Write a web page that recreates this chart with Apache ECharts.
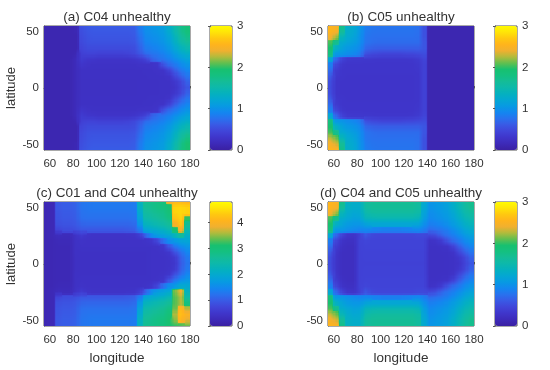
<!DOCTYPE html>
<html><head><meta charset="utf-8">
<style>html,body{margin:0;padding:0;background:#fff}#c{width:550px;height:370px}</style>
<script src="https://cdn.jsdelivr.net/npm/echarts@6/dist/echarts.min.js"></script>
</head><body><div id="c"></div>
<script>
const lons=[57.5,62.5,67.5,72.5,77.5,82.5,87.5,92.5,97.5,102.5,107.5,112.5,117.5,122.5,127.5,132.5,137.5,142.5,147.5,152.5,157.5,162.5,167.5,172.5,177.5];
const lats=[55,50,45,40,35,30,25,20,15,10,5,0,-5,-10,-15,-20,-25,-30,-35,-40,-45,-50,-55];
const lonTicks=[60,80,100,120,140,160,180];
const latTicks=[-50,0,50];
const barTicks3=[0,1,2,3];
const barTicks48=[0,1,2,3,4];
const titles=['(a) C04 unhealthy','(b) C05 unhealthy','(c) C01 and C04 unhealthy','(d) C04 and C05 unhealthy'];
const parula=['#3a20a2','#3d2ab8','#3f35ca','#4044d8','#3a58e4','#2a70ee','#1485f0','#0898e4','#04a6d4','#04b0c0','#0cb8ac','#14bc98','#14c080','#18c070','#60bf50','#b0bb3c','#f0b030','#ffb41c','#ffc810','#ffe408','#fffb00'];
const panelA=[
[.1,.1,.1,.1,.1,.12,.54,.6,.62,.62,.62,.62,.62,.62,.62,.64,.82,.98,1.02,1.06,1.12,1.28,1.5,1.72,1.88],
[.1,.1,.1,.1,.1,.12,.52,.58,.6,.6,.6,.6,.6,.6,.6,.62,.8,.96,1,1.04,1.1,1.25,1.46,1.68,1.85],
[.1,.1,.1,.1,.1,.1,.5,.56,.58,.58,.58,.58,.58,.58,.58,.6,.75,.92,.96,1,1.06,1.18,1.38,1.6,1.75],
[.1,.1,.1,.1,.1,.1,.48,.54,.55,.55,.55,.55,.55,.55,.55,.57,.7,.88,.92,.96,1.02,1.12,1.3,1.5,1.62],
[.1,.1,.1,.1,.1,.1,.45,.5,.5,.5,.5,.5,.5,.5,.5,.52,.65,.82,.86,.9,.96,1.05,1.2,1.36,1.48],
[.1,.1,.1,.1,.1,.12,.4,.44,.44,.42,.42,.42,.42,.42,.44,.48,.58,.72,.78,.82,.88,.96,1.08,1.22,1.32],
[.1,.1,.1,.1,.1,.17,.36,.31,.3,.28,.28,.28,.28,.28,.28,.3,.34,.42,.62,.72,.78,.85,.95,1.05,1.15],
[.1,.1,.1,.1,.1,.17,.3,.27,.26,.26,.26,.26,.26,.26,.26,.26,.27,.27,.27,.3,.55,.7,.8,.92,1.02],
[.1,.1,.1,.1,.1,.17,.25,.25,.25,.25,.25,.25,.25,.25,.25,.25,.25,.26,.26,.27,.28,.42,.62,.78,.9],
[.1,.1,.1,.1,.1,.17,.25,.25,.25,.25,.25,.25,.25,.25,.25,.25,.25,.25,.26,.26,.26,.28,.45,.62,.78],
[.1,.1,.1,.1,.1,.17,.24,.24,.24,.24,.24,.24,.24,.24,.24,.24,.25,.25,.25,.25,.26,.26,.32,.45,.66],
[.1,.1,.1,.1,.1,.17,.24,.24,.24,.24,.24,.24,.24,.24,.24,.24,.25,.25,.25,.25,.26,.26,.28,.42,.58],
[.1,.1,.1,.1,.1,.17,.24,.24,.24,.24,.24,.24,.24,.24,.24,.24,.25,.25,.25,.25,.26,.26,.32,.45,.66],
[.1,.1,.1,.1,.1,.17,.25,.25,.25,.25,.25,.25,.25,.25,.25,.25,.25,.25,.26,.26,.26,.28,.45,.62,.78],
[.1,.1,.1,.1,.1,.17,.25,.25,.25,.25,.25,.25,.25,.25,.25,.25,.25,.26,.26,.27,.28,.42,.62,.78,.9],
[.1,.1,.1,.1,.1,.17,.3,.27,.26,.26,.26,.26,.26,.26,.26,.26,.27,.27,.27,.3,.55,.7,.8,.92,1.02],
[.1,.1,.1,.1,.1,.17,.36,.31,.3,.28,.28,.28,.28,.28,.28,.3,.34,.42,.62,.72,.78,.85,.95,1.05,1.15],
[.1,.1,.1,.1,.1,.12,.4,.44,.44,.42,.42,.42,.42,.42,.44,.48,.58,.72,.78,.82,.88,.96,1.08,1.22,1.32],
[.1,.1,.1,.1,.1,.1,.45,.5,.5,.5,.5,.5,.5,.5,.5,.52,.65,.82,.86,.9,.96,1.05,1.2,1.36,1.48],
[.1,.1,.1,.1,.1,.1,.48,.54,.55,.55,.55,.55,.55,.55,.55,.57,.7,.88,.92,.96,1.02,1.12,1.3,1.5,1.62],
[.1,.1,.1,.1,.1,.1,.5,.56,.58,.58,.58,.58,.58,.58,.58,.6,.75,.92,.96,1,1.06,1.18,1.38,1.6,1.8],
[.1,.1,.1,.1,.1,.12,.52,.58,.6,.6,.6,.6,.6,.6,.6,.62,.8,.96,1,1.04,1.1,1.25,1.46,1.7,1.95],
[.1,.1,.1,.1,.1,.12,.54,.6,.62,.62,.62,.62,.62,.62,.62,.64,.82,.98,1.02,1.06,1.12,1.28,1.5,1.75,1.95]
];
const panelB=[
[2.55,2.5,1.75,1.3,1.25,1.05,.85,.8,.78,.78,.78,.78,.78,.78,.78,.75,.55,.1,.1,.1,.1,.1,.1,.1,.1],
[2.55,2.45,1.65,1.28,1.22,1.05,.83,.78,.77,.77,.77,.77,.77,.77,.77,.75,.55,.1,.1,.1,.1,.1,.1,.1,.1],
[2.45,2.2,1.45,1.24,1.18,1.02,.8,.76,.75,.75,.75,.75,.75,.75,.75,.74,.55,.1,.1,.1,.1,.1,.1,.1,.1],
[2.05,1.7,1.25,1.16,1.1,1,.78,.74,.72,.72,.72,.72,.72,.72,.72,.72,.58,.1,.1,.1,.1,.1,.1,.1,.1],
[1.95,1.35,1.14,1.06,1.02,.94,.7,.66,.64,.64,.64,.64,.64,.64,.64,.64,.58,.1,.1,.1,.1,.1,.1,.1,.1],
[1.8,1.05,1.02,.96,.92,.84,.56,.5,.48,.46,.46,.46,.46,.48,.48,.5,.52,.1,.1,.1,.1,.1,.1,.1,.1],
[1.2,.7,.42,.34,.33,.33,.32,.32,.31,.31,.31,.31,.31,.31,.32,.35,.44,.1,.1,.1,.1,.1,.1,.1,.1],
[.85,.45,.32,.3,.3,.3,.3,.3,.3,.3,.3,.3,.3,.3,.3,.32,.42,.1,.1,.1,.1,.1,.1,.1,.1],
[.72,.36,.3,.3,.3,.3,.3,.3,.3,.3,.3,.3,.3,.3,.3,.31,.42,.1,.1,.1,.1,.1,.1,.1,.1],
[.6,.32,.3,.29,.29,.29,.29,.29,.29,.29,.29,.29,.29,.29,.29,.3,.42,.1,.1,.1,.1,.1,.1,.1,.1],
[.52,.3,.29,.29,.29,.29,.29,.29,.29,.29,.29,.29,.29,.29,.29,.3,.42,.1,.1,.1,.1,.1,.1,.1,.1],
[.5,.3,.29,.29,.29,.29,.29,.29,.29,.29,.29,.29,.29,.29,.29,.3,.42,.1,.1,.1,.1,.1,.1,.1,.1],
[.52,.3,.29,.29,.29,.29,.29,.29,.29,.29,.29,.29,.29,.29,.29,.3,.42,.1,.1,.1,.1,.1,.1,.1,.1],
[.6,.32,.3,.29,.29,.29,.29,.29,.29,.29,.29,.29,.29,.29,.29,.3,.42,.1,.1,.1,.1,.1,.1,.1,.1],
[.72,.36,.3,.3,.3,.3,.3,.3,.3,.3,.3,.3,.3,.3,.3,.31,.42,.1,.1,.1,.1,.1,.1,.1,.1],
[.85,.45,.32,.3,.3,.3,.3,.3,.3,.3,.3,.3,.3,.3,.3,.32,.42,.1,.1,.1,.1,.1,.1,.1,.1],
[1.2,.7,.42,.34,.33,.33,.32,.32,.31,.31,.31,.31,.31,.31,.32,.35,.44,.1,.1,.1,.1,.1,.1,.1,.1],
[1.8,1.05,1.02,.96,.92,.84,.56,.5,.48,.46,.46,.46,.46,.48,.48,.5,.52,.1,.1,.1,.1,.1,.1,.1,.1],
[1.95,1.35,1.14,1.06,1.02,.94,.7,.66,.64,.64,.64,.64,.64,.64,.64,.64,.58,.1,.1,.1,.1,.1,.1,.1,.1],
[2.05,1.7,1.25,1.16,1.1,1,.78,.74,.72,.72,.72,.72,.72,.72,.72,.72,.58,.1,.1,.1,.1,.1,.1,.1,.1],
[2.3,2.1,1.45,1.24,1.18,1.02,.8,.76,.75,.75,.75,.75,.75,.75,.75,.74,.55,.1,.1,.1,.1,.1,.1,.1,.1],
[2.45,2.3,1.65,1.28,1.22,1.05,.83,.78,.77,.77,.77,.77,.77,.77,.77,.75,.55,.1,.1,.1,.1,.1,.1,.1,.1],
[2.55,2.5,1.75,1.3,1.25,1.05,.85,.8,.78,.78,.78,.78,.78,.78,.78,.75,.55,.1,.1,.1,.1,.1,.1,.1,.1]
];
const panelC=[
[.2,.22,.95,1,1,1.05,1.25,1.28,1.3,1.3,1.3,1.3,1.3,1.3,1.3,1.32,2.2,2.7,2.8,2.85,2.95,3.9,4.1,4.1,4],
[.2,.22,.95,1,1,1.05,1.25,1.28,1.3,1.3,1.3,1.3,1.3,1.3,1.3,1.32,2.15,2.65,2.75,2.85,2.9,3.1,4.4,4.45,4.4],
[.2,.22,.92,.98,.98,1.02,1.22,1.25,1.26,1.26,1.26,1.26,1.26,1.26,1.26,1.28,2,2.55,2.65,2.75,2.8,3,4.4,4.45,4.4],
[.2,.22,.9,.95,.95,1,1.18,1.2,1.2,1.2,1.2,1.2,1.2,1.2,1.2,1.24,1.85,2.4,2.5,2.6,2.7,2.85,4.25,4.4,3.2],
[.2,.22,.85,.9,.9,.95,1.08,1.1,1.1,1.1,1.1,1.1,1.1,1.1,1.1,1.15,1.65,2.2,2.3,2.4,2.5,2.65,3.9,4.3,2.7],
[.2,.22,.72,.8,.8,.85,.95,.95,.95,.95,.95,.95,.95,.95,.98,1.02,1.35,1.85,2,2.1,2.2,2.35,3.1,3.95,2.4],
[.2,.22,.3,.28,.28,.42,.56,.46,.44,.44,.44,.44,.44,.44,.45,.46,.6,1.05,1.5,1.7,1.8,1.95,2.2,2.6,2.1],
[.2,.2,.24,.24,.24,.4,.44,.42,.42,.42,.42,.42,.42,.42,.42,.42,.42,.44,.5,.75,1.2,1.5,1.7,1.85,1.9],
[.2,.2,.22,.22,.22,.4,.42,.42,.42,.42,.42,.42,.42,.42,.42,.42,.42,.42,.42,.44,.5,.95,1.25,1.5,1.65],
[.2,.2,.22,.22,.22,.4,.4,.4,.4,.4,.4,.4,.4,.4,.4,.4,.4,.4,.42,.42,.44,.5,.85,1.15,1.45],
[.2,.2,.22,.22,.22,.38,.4,.4,.4,.4,.4,.4,.4,.4,.4,.4,.4,.4,.42,.42,.42,.45,.55,1,1.3],
[.2,.2,.22,.22,.22,.38,.4,.4,.4,.4,.4,.4,.4,.4,.4,.4,.4,.4,.42,.42,.42,.44,.5,.95,1.25],
[.2,.2,.22,.22,.22,.38,.4,.4,.4,.4,.4,.4,.4,.4,.4,.4,.4,.4,.42,.42,.42,.45,.55,1,1.3],
[.2,.2,.22,.22,.22,.4,.4,.4,.4,.4,.4,.4,.4,.4,.4,.4,.4,.4,.42,.42,.44,.5,.85,1.15,1.45],
[.2,.2,.22,.22,.22,.4,.42,.42,.42,.42,.42,.42,.42,.42,.42,.42,.42,.42,.42,.44,.5,.95,1.25,1.55,1.7],
[.2,.2,.24,.24,.24,.4,.44,.42,.42,.42,.42,.42,.42,.42,.42,.42,.42,.44,.5,.75,1.2,1.5,1.7,2,1.95],
[.2,.22,.3,.28,.28,.42,.56,.46,.44,.44,.44,.44,.44,.44,.45,.46,.6,1.05,1.5,1.7,1.8,1.95,3.4,3.85,2.2],
[.2,.22,.72,.8,.8,.85,.95,.95,.95,.95,.95,.95,.95,.95,.98,1.02,1.35,1.85,2,2.1,2.2,2.35,3.3,3.6,2.5],
[.2,.22,.85,.9,.9,.95,1.08,1.1,1.1,1.1,1.1,1.1,1.1,1.1,1.1,1.15,1.65,2.2,2.3,2.4,2.5,2.65,3.3,3.6,2.9],
[.2,.22,.9,.95,.95,1,1.18,1.2,1.2,1.2,1.2,1.2,1.2,1.2,1.2,1.24,1.85,2.4,2.5,2.6,2.7,2.85,3.4,4.1,3.6],
[.2,.22,.92,.98,.98,1.02,1.22,1.25,1.26,1.26,1.26,1.26,1.26,1.26,1.26,1.28,2,2.55,2.65,2.75,2.8,3,3.6,4.2,4],
[.2,.22,.95,1,1,1.05,1.25,1.28,1.3,1.3,1.3,1.3,1.3,1.3,1.3,1.32,2.15,2.65,2.75,2.85,2.9,3.1,3.5,4.1,3.8],
[.2,.22,.95,1,1,1.05,1.25,1.28,1.3,1.3,1.3,1.3,1.3,1.3,1.3,1.32,2.2,2.7,2.8,2.85,2.95,3.1,3.2,3.3,3.4]
];
const panelD=[
[2.55,2.5,1.75,1.35,1.3,1.3,1.6,1.66,1.68,1.68,1.68,1.68,1.68,1.68,1.68,1.62,1.28,1.02,1.06,1.1,1.16,1.3,1.45,1.6,1.72],
[2.55,2.45,1.65,1.33,1.28,1.28,1.58,1.65,1.66,1.66,1.66,1.66,1.66,1.66,1.66,1.6,1.25,1,1.04,1.08,1.14,1.28,1.42,1.56,1.7],
[2.45,2.2,1.45,1.28,1.22,1.24,1.5,1.58,1.6,1.6,1.6,1.6,1.6,1.6,1.6,1.55,1.2,.96,1,1.05,1.1,1.22,1.36,1.5,1.6],
[2.05,1.7,1.28,1.2,1.14,1.16,1.38,1.42,1.44,1.44,1.44,1.44,1.44,1.44,1.44,1.4,1.12,.92,.96,1,1.05,1.15,1.28,1.4,1.5],
[1.95,1.35,1.16,1.08,1.04,1.04,1.15,1.2,1.2,1.2,1.2,1.2,1.2,1.2,1.2,1.18,1,.85,.88,.92,.98,1.08,1.18,1.3,1.4],
[1.8,1.05,1.04,.98,.94,.9,.92,.9,.88,.86,.86,.86,.86,.88,.9,.92,.85,.72,.76,.8,.86,.96,1.06,1.18,1.28],
[1.2,.7,.42,.3,.28,.4,.58,.48,.46,.46,.46,.46,.46,.46,.46,.48,.48,.45,.5,.65,.75,.84,.94,1.04,1.14],
[.85,.45,.27,.24,.24,.42,.46,.44,.44,.44,.44,.44,.44,.44,.44,.44,.44,.26,.28,.36,.55,.7,.8,.92,1.02],
[.72,.36,.24,.22,.22,.42,.44,.44,.44,.44,.44,.44,.44,.44,.44,.44,.44,.25,.25,.26,.28,.42,.62,.78,.9],
[.6,.3,.22,.22,.22,.42,.43,.43,.43,.43,.43,.43,.43,.43,.43,.43,.43,.24,.24,.25,.25,.28,.45,.62,.78],
[.52,.28,.22,.22,.22,.42,.43,.43,.43,.43,.43,.43,.43,.43,.43,.43,.43,.24,.24,.24,.25,.26,.32,.45,.66],
[.5,.28,.22,.22,.22,.42,.42,.42,.42,.42,.42,.42,.42,.42,.42,.42,.42,.24,.24,.24,.25,.26,.28,.42,.58],
[.52,.28,.22,.22,.22,.42,.43,.43,.43,.43,.43,.43,.43,.43,.43,.43,.43,.24,.24,.24,.25,.26,.32,.45,.66],
[.6,.3,.22,.22,.22,.42,.43,.43,.43,.43,.43,.43,.43,.43,.43,.43,.43,.24,.24,.25,.25,.28,.45,.62,.78],
[.72,.36,.24,.22,.22,.42,.44,.44,.44,.44,.44,.44,.44,.44,.44,.44,.44,.25,.25,.26,.28,.42,.62,.78,.9],
[.85,.45,.27,.24,.24,.42,.46,.44,.44,.44,.44,.44,.44,.44,.44,.44,.44,.26,.28,.36,.55,.7,.8,.92,1.02],
[1.2,.7,.42,.3,.28,.4,.58,.48,.46,.46,.46,.46,.46,.46,.46,.48,.48,.45,.5,.65,.75,.84,.94,1.04,1.14],
[1.8,1.05,1.04,.98,.94,.9,.92,.9,.88,.86,.86,.86,.86,.88,.9,.92,.85,.72,.76,.8,.86,.96,1.06,1.18,1.28],
[1.95,1.35,1.16,1.08,1.04,1.04,1.15,1.2,1.2,1.2,1.2,1.2,1.2,1.2,1.2,1.18,1,.85,.88,.92,.98,1.08,1.18,1.3,1.4],
[2.05,1.7,1.28,1.2,1.14,1.16,1.38,1.42,1.44,1.44,1.44,1.44,1.44,1.44,1.44,1.4,1.12,.92,.96,1,1.05,1.15,1.28,1.4,1.5],
[2.3,2.1,1.45,1.28,1.22,1.24,1.5,1.58,1.6,1.6,1.6,1.6,1.6,1.6,1.6,1.55,1.2,.96,1,1.05,1.1,1.22,1.36,1.5,1.6],
[2.45,2.3,1.65,1.33,1.28,1.28,1.58,1.65,1.66,1.66,1.66,1.66,1.66,1.66,1.66,1.6,1.25,1,1.04,1.08,1.14,1.28,1.42,1.56,1.7],
[2.55,2.5,1.75,1.35,1.3,1.3,1.6,1.66,1.68,1.68,1.68,1.68,1.68,1.68,1.68,1.62,1.28,1.02,1.06,1.1,1.16,1.3,1.45,1.6,1.72]
];

const panels=[panelA,panelB,panelC,panelD];
const maxes=[3,3,4.8,3];
const barTicks=[barTicks3,barTicks3,barTicks48,barTicks3];
const grids=[[44,26],[328,26],[44,202],[328,202]];
const barLeft=[210,495,210,495];
const txt='#333', font='"Liberation Sans",Arial,sans-serif', lineC='#555';
const SUB=5;
// display shading between the read cell values (like MATLAB's interpolated shading)
function mix(a,b,t,jump){
  let k=t;
  if(Math.abs(a-b)>jump) k=Math.max(0,Math.min(1,(t-.5)*3.5+.5));
  return a+(b-a)*k;
}
function sample(rows,fx,fy,jump){
  const cx=Math.max(0,Math.min(lons.length-1.0001,fx)), cy=Math.max(0,Math.min(lats.length-1.0001,fy));
  const i=Math.floor(cx), j=Math.floor(cy), tx=cx-i, ty=cy-j;
  return mix(mix(rows[j][i],rows[j][i+1],tx,jump),mix(rows[j+1][i],rows[j+1][i+1],tx,jump),ty,jump);
}
const option={animation:false,backgroundColor:'#fff',textStyle:{fontFamily:font},title:[],grid:[],xAxis:[],yAxis:[],visualMap:[],series:[]};
panels.forEach((rows,i)=>{
  const [l,t]=grids[i];
  const jump=.1*maxes[i];
  option.title.push({text:titles[i],left:l+73,top:t-16,textAlign:'center',padding:0,textStyle:{fontSize:13.5,fontWeight:'normal',color:txt,fontFamily:font,lineHeight:15}});
  option.grid.push({left:l,top:t,width:146,height:124,show:true,borderColor:lineC,borderWidth:1,backgroundColor:'transparent'});
  option.xAxis.push({type:'value',gridIndex:2*i,min:55,max:180,name:i>=2?'longitude':'',nameLocation:'middle',nameGap:25,
    nameTextStyle:{fontSize:13.5,color:txt,fontFamily:font},
    axisLine:{show:true,lineStyle:{color:lineC,width:1}},axisTick:{show:true,inside:true,length:2,customValues:lonTicks,lineStyle:{color:lineC}},
    axisLabel:{show:true,fontSize:11.5,color:txt,margin:8,fontFamily:font,customValues:lonTicks,hideOverlap:false},splitLine:{show:false}});
  option.yAxis.push({type:'value',gridIndex:2*i,min:-55,max:55,name:(i%2==0)?'latitude':'',nameLocation:'middle',nameGap:26,nameRotate:90,
    nameTextStyle:{fontSize:13,color:txt,fontFamily:font},
    axisLine:{show:true,lineStyle:{color:lineC,width:1}},axisTick:{show:true,inside:true,length:2,customValues:latTicks,lineStyle:{color:lineC}},
    axisLabel:{show:true,fontSize:11.5,color:txt,margin:5,fontFamily:font,customValues:latTicks},splitLine:{show:false}});
  option.grid.push({left:barLeft[i],top:t,width:22,height:124,show:true,borderColor:lineC,borderWidth:1});
  option.xAxis.push({type:'value',gridIndex:2*i+1,min:0,max:1,show:false});
  option.yAxis.push({type:'value',gridIndex:2*i+1,min:0,max:maxes[i],position:'right',
    axisLine:{show:true,lineStyle:{color:lineC,width:1}},axisTick:{show:true,inside:true,length:2,customValues:barTicks[i],lineStyle:{color:lineC}},
    axisLabel:{show:true,fontSize:11.5,color:txt,margin:5,fontFamily:font,customValues:barTicks[i]},splitLine:{show:false}});
  const data=[];
  rows.forEach((r,ri)=>r.forEach((v,ci)=>data.push([lons[ci],lats[ri],v])));
  option.series.push({type:'custom',xAxisIndex:2*i,yAxisIndex:2*i,clip:true,data,encode:{x:0,y:1},
    renderItem:(p,api)=>{
      const lon=api.value(0), lat=api.value(1), kids=[];
      for(let a=0;a<SUB;a++)for(let b=0;b<SUB;b++){
        const x0=lon-2.5+5*a/SUB, x1=x0+5/SUB, y0=lat+2.5-5*b/SUB, y1=y0-5/SUB;
        const v=sample(rows,((x0+x1)/2-lons[0])/5,(lats[0]-(y0+y1)/2)/5,jump);
        const p0=api.coord([x0,y0]), p1=api.coord([x1,y1]);
        kids.push({type:'rect',shape:{x:Math.floor(p0[0]),y:Math.floor(p0[1]),width:Math.ceil(p1[0])-Math.floor(p0[0]),height:Math.ceil(p1[1])-Math.floor(p0[1])},
          style:{fill:echarts.color.lerp(Math.max(0,Math.min(1,v/maxes[i])),parula)}});
      }
      return {type:'group',children:kids};
    }});
  option.visualMap.push({type:'continuous',seriesIndex:i,dimension:2,min:0,max:maxes[i],left:barLeft[i],top:t,itemWidth:22,itemHeight:124,padding:0,calculable:false,
    text:null,showLabel:false,inRange:{color:parula},hoverLink:false});
});
echarts.init(document.getElementById('c'),null,{renderer:'canvas'}).setOption(option);
</script></body></html>
